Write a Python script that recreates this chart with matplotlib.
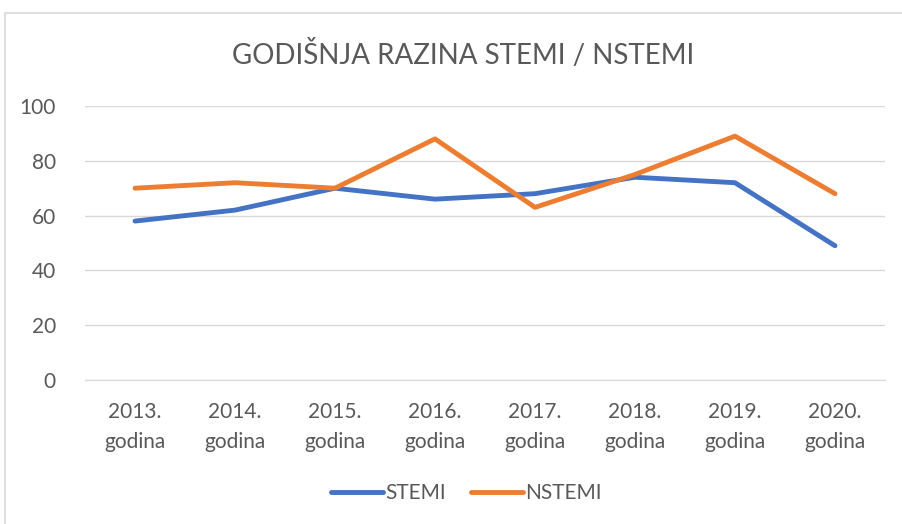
import matplotlib.pyplot as plt
from matplotlib.patches import Rectangle

years = ["2013.\ngodina", "2014.\ngodina", "2015.\ngodina", "2016.\ngodina",
         "2017.\ngodina", "2018.\ngodina", "2019.\ngodina", "2020.\ngodina"]
stemi = [58, 62, 70, 66, 68, 74, 72, 49]
nstemi = [70, 72, 70, 88, 63, 75, 89, 68]

plt.rcParams['font.family'] = ['Lato', 'DejaVu Sans']
text_color = '#595959'

fig = plt.figure(figsize=(9.03, 5.24), dpi=100)
ax = fig.add_axes([85 / 903, 1 - 380 / 524, 800 / 903, 274 / 524])

x = range(len(years))
ax.plot(x, stemi, color='#4472C4', lw=3.5, solid_capstyle='round',
        solid_joinstyle='round', label='STEMI', zorder=3)
ax.plot(x, nstemi, color='#ED7D31', lw=3.5, solid_capstyle='round',
        solid_joinstyle='round', label='NSTEMI', zorder=3)

ax.set_xlim(-0.5, len(years) - 0.5)
ax.set_ylim(0, 100)
ax.set_yticks(range(0, 101, 20))
ax.set_xticks(list(x))
ax.set_xticklabels(years, linespacing=1.6)
ax.grid(axis='y', color='#D9D9D9', lw=1)
ax.set_axisbelow(True)
for s in ['top', 'right', 'left']:
    ax.spines[s].set_visible(False)
ax.spines['bottom'].set_color('#D9D9D9')
ax.tick_params(length=0, labelsize=15, labelcolor=text_color)
ax.tick_params(axis='x', pad=16)
ax.tick_params(axis='y', pad=21)

fig.text(0.513, 1 - 55 / 524, "GODIŠNJA RAZINA STEMI / NSTEMI", ha='center',
         va='center', fontsize=20, color=text_color)

fig.legend(loc='center', bbox_to_anchor=(466 / 903, 1 - 493 / 524), ncol=2,
           frameon=False, fontsize=15, labelcolor=text_color,
           handlelength=2.5, handletextpad=0.1, columnspacing=1.2)

fig.patches.append(Rectangle((5 / 903, -0.1), 1.1, 1 - 13 / 524 + 0.1,
                             transform=fig.transFigure, fill=False,
                             edgecolor='#D9D9D9', lw=1.2))

fig.savefig('out.png', dpi=100)
